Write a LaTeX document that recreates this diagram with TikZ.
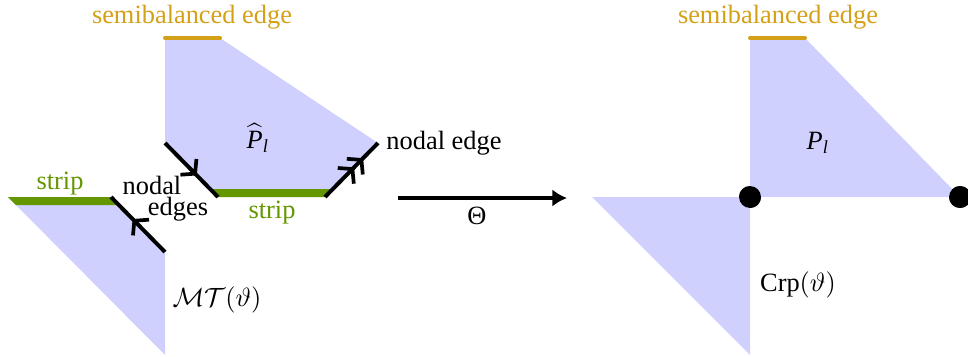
\documentclass[tikz,border=0pt]{standalone}
\usepackage{fontspec}
\setmainfont{Liberation Serif}
\usetikzlibrary{arrows.meta,decorations.markings}
\definecolor{regfill}{RGB}{208,208,255}
\definecolor{stripgreen}{RGB}{100,150,0}
\definecolor{semigold}{RGB}{212,160,23}

\begin{document}
\begin{tikzpicture}[
		x=0.379pt, y=-0.379pt,
		region/.style={fill=regfill},
		stripband/.style={fill=stripgreen},
		semiedge/.style={draw=semigold, line width=1.5pt, line cap=round},
		barb/.tip={Straight Barb[length=3.6pt, width=8.5pt, line width=1.4pt]},
		nodalone/.style={line width=1.5pt, postaction={decorate},
			decoration={markings, mark=at position 0.6 with {\arrow{barb}}}},
		nodaltwo/.style={line width=1.5pt, postaction={decorate},
			decoration={markings, mark=at position 0.55 with {\arrow{barb}},
				mark=at position 0.72 with {\arrow{barb}}}},
		mainarr/.style={-{Latex[length=5.5pt, width=6.5pt]}, line width=1.2pt},
		dot/.style={circle, fill, inner sep=0pt, minimum size=8.3pt},
		lbl/.style={inner sep=0pt},
	]
	\useasboundingbox (0,0) rectangle (968,356);

	% Before Theta
	\coordinate (ua) at (165,143);
	\coordinate (ub) at (218,197);
	\coordinate (uc) at (325,197);
	\coordinate (ud) at (378,143);
	\coordinate (la) at (111,197);
	\coordinate (lb) at (165,252);

	\fill[region] (165,38) -- (220,38) -- (ud) -- (uc) -- (ub) -- (ua) -- cycle;
	\fill[region] (8,197) -- (la) -- (lb) -- (165,355) -- cycle;
	\fill[stripband] (ub) -- (uc) -- (333,189) -- (210,189) -- cycle;
	\fill[stripband] (8,197) -- (la) -- (119,205) -- (16,205) -- cycle;
	\draw[semiedge] (165,38) -- (220,38);

	\draw[nodalone] (lb) -- (la);
	\draw[nodalone] (ua) -- (ub);
	\draw[nodaltwo] (uc) -- (ud);

	\node[lbl, text=semigold] (semil) at (192,17) {semibalanced edge};
	\node[lbl, text=stripgreen] (stripl) at (60,184) {strip};
	\node[lbl, text=stripgreen] (stripu) at (272,213) {strip};
	\node[lbl] (nodala) at (152,185) {nodal};
	\node[lbl] (nodalb) at (178,209) {edges};
	\node[lbl] (nodalr) at (444,143) {nodal edge};
	\node[lbl] (phat) at (258,138) {$\widehat{\mathit{P}}_{\mathit{l}}$};
	\node[lbl] (mt) at (217,300) {$\mathcal{M}\mathcal{T}(\vartheta)$};

	% Theta
	\coordinate (thl) at (398,198);
	\coordinate (thr) at (567,198);
	\draw[mainarr] (thl) -- (thr);
	\node[lbl] (theta) at (477,216) {Θ};

	% After Theta
	\node[dot] (va) at (750,197) {};
	\node[dot] (vb) at (960,197) {};
	\fill[region] (750,38) -- (805,38) -- (vb.center) -- (va.center) -- cycle;
	\fill[region] (592,197) -- (va.center) -- (750,355) -- cycle;
	\node[dot] at (va) {};
	\node[dot] at (vb) {};
	\draw[semiedge] (750,38) -- (805,38);

	\node[lbl, text=semigold] (semir) at (778,17) {semibalanced edge};
	\node[lbl] (pl) at (818,143) {$\mathit{P}_{\mathit{l}}$};
	\node[lbl] (crp) at (798,285) {Crp$(\vartheta)$};

\end{tikzpicture}
\end{document}
